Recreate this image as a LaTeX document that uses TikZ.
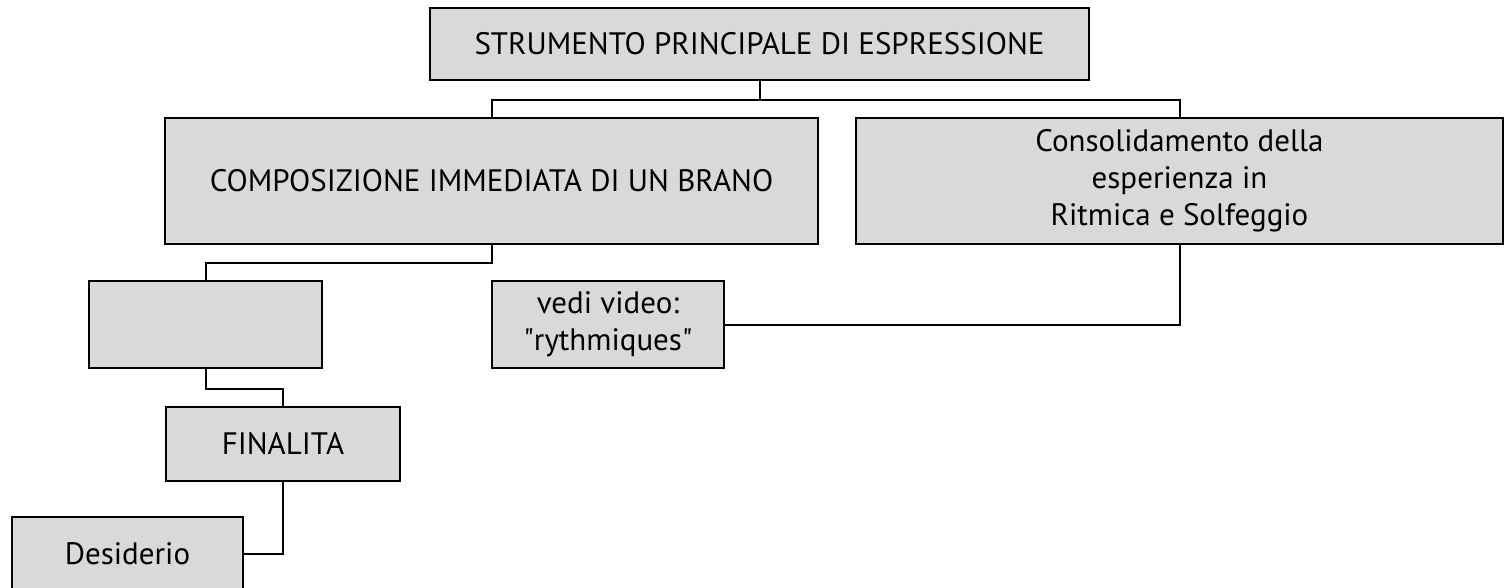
\documentclass[tikz,border=0pt]{standalone}
\usepackage{fontspec}
\setmainfont{PT Sans}
\usepackage{tikz}

\begin{document}
\begin{tikzpicture}[x=1pt,y=-1pt,
  box/.style={draw=black,line width=2pt,fill=black!15,align=center,inner sep=0pt,
    font=\fontsize{31}{37}\selectfont},
  link/.style={line width=2pt}]
\useasboundingbox (0,0) rectangle (1505,588);
\node[box,minimum width=659,minimum height=72] (top) at (759.5,44) {STRUMENTO PRINCIPALE DI ESPRESSIONE};
\node[box,minimum width=653,minimum height=126] (comp) at (491.5,181) {COMPOSIZIONE IMMEDIATA DI UN BRANO};
\node[box,minimum width=647,minimum height=126] (cons) at (1179.5,181) {Consolidamento della\\esperienza in\\Ritmica e Solfeggio};
\node[box,minimum width=233,minimum height=87] (empty) at (205.5,324.5) {};
\node[box,minimum width=232,minimum height=87] (video) at (608,324.5) {vedi video:\\\textquotedbl rythmiques\textquotedbl};
\node[box,minimum width=234,minimum height=74] (fin) at (283,444) {FINALITA};
\node[box,minimum width=231,minimum height=73] (des) at (127.5,553.5) {Desiderio};
\draw[link] (top.south) -- ++(0,19) coordinate (bus);
\draw[link] (comp.north) |- (bus) -| (cons.north);
\draw[link] (comp.south) -- ++(0,18) -| (empty.north);
\draw[link] (cons.south) |- (video.east);
\draw[link] (empty.south) -- ++(0,20) -| (fin.north);
\draw[link] (fin.south) |- (des.east);
\end{tikzpicture}
\end{document}
